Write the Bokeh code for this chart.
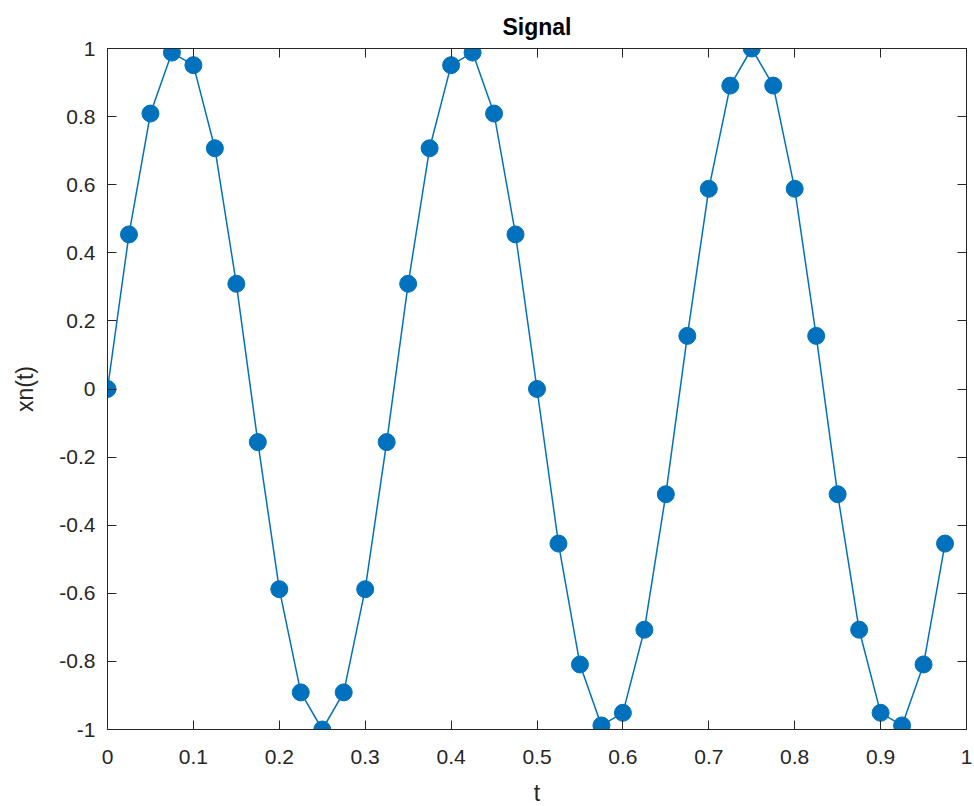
from bokeh.plotting import figure
from bokeh.models import LinearAxis, FixedTicker, Range1d, ColumnDataSource
from bokeh.embed import file_html
from bokeh.resources import INLINE

# Data
t_values = [0.000, 0.025, 0.050, 0.075, 0.100, 0.125, 0.150, 0.175, 0.200, 0.225,
            0.250, 0.275, 0.300, 0.325, 0.350, 0.375, 0.400, 0.425, 0.450, 0.475,
            0.500, 0.525, 0.550, 0.575, 0.600, 0.625, 0.650, 0.675, 0.700, 0.725,
            0.750, 0.775, 0.800, 0.825, 0.850, 0.875, 0.900, 0.925, 0.950, 0.975]
xn_values = [0.000, 0.454, 0.809, 0.988, 0.951, 0.707, 0.309, -0.156, -0.588, -0.891,
             -1.000, -0.891, -0.588, -0.156, 0.309, 0.707, 0.951, 0.988, 0.809, 0.454,
             0.000, -0.454, -0.809, -0.988, -0.951, -0.707, -0.309, 0.156, 0.588, 0.891,
             1.000, 0.891, 0.588, 0.156, -0.309, -0.707, -0.951, -0.988, -0.809, -0.454]

x_ticks = [0, 0.1, 0.2, 0.3, 0.4, 0.5, 0.6, 0.7, 0.8, 0.9, 1]
x_tick_labels = ["0", "0.1", "0.2", "0.3", "0.4", "0.5", "0.6", "0.7", "0.8", "0.9", "1"]
y_ticks = [-1, -0.8, -0.6, -0.4, -0.2, 0, 0.2, 0.4, 0.6, 0.8, 1]
y_tick_labels = ["-1", "-0.8", "-0.6", "-0.4", "-0.2", "0", "0.2", "0.4", "0.6", "0.8", "1"]

title_text = "Signal"
x_label = "t"
y_label = "xn(t)"

AX = "#262626"
BLUE = "#0072BD"
FONT = "Liberation Sans"

src = ColumnDataSource(dict(t=t_values, xn=xn_values))

p = figure(frame_width=859, frame_height=681,
           x_range=Range1d(0, 1), y_range=Range1d(-1, 1),
           output_backend="svg", toolbar_location=None,
           min_border_left=107, min_border_right=8,
           min_border_top=48, min_border_bottom=77)

p.title.text = title_text
p.title.align = "center"
p.title.text_font = FONT
p.title.text_font_size = "23px"
p.title.text_font_style = "bold"
p.title.text_color = "black"
p.title.offset = 0
p.title.standoff = 18

p.xgrid.visible = False
p.ygrid.visible = False
p.outline_line_color = AX
p.outline_line_alpha = 1
p.outline_line_width = 1
p.background_fill_color = "white"
p.border_fill_color = "white"

p.line("t", "xn", source=src, line_color=BLUE, line_width=1.5)
p.scatter("t", "xn", source=src, size=17, fill_color=BLUE, line_color=BLUE, marker="circle")

def style_axis(ax, ticks, labels, show_labels=True, standoff=10):
    ax.ticker = FixedTicker(ticks=ticks)
    ax.major_label_overrides = {tk: lb for tk, lb in zip(ticks, labels)}
    ax.minor_tick_line_color = None
    ax.major_tick_in = 9
    ax.major_tick_out = 0
    ax.major_tick_line_color = AX
    ax.major_tick_line_width = 1
    ax.axis_line_color = AX
    ax.major_label_text_font = FONT
    ax.major_label_text_color = AX
    if show_labels:
        ax.major_label_text_font_size = "21px"
        ax.major_label_standoff = standoff
    else:
        ax.major_label_text_font_size = "1px"
        ax.major_label_text_alpha = 0
        ax.major_label_standoff = 0

xa = p.xaxis[0]
ya = p.yaxis[0]
style_axis(xa, x_ticks, x_tick_labels, standoff=20)
style_axis(ya, y_ticks, y_tick_labels, standoff=12)
xa.axis_label = x_label
ya.axis_label = y_label
for ax in (xa, ya):
    ax.axis_label_text_font = FONT
    ax.axis_label_text_font_size = "23px"
    ax.axis_label_text_font_style = "normal"
    ax.axis_label_text_color = AX
xa.axis_label_standoff = 13
ya.axis_label_standoff = 18

top_ax = LinearAxis()
right_ax = LinearAxis()
style_axis(top_ax, x_ticks, x_tick_labels, show_labels=False)
style_axis(right_ax, y_ticks, y_tick_labels, show_labels=False)
p.add_layout(top_ax, "above")
p.add_layout(right_ax, "right")

open("out.html", "w").write(file_html(p, INLINE))
